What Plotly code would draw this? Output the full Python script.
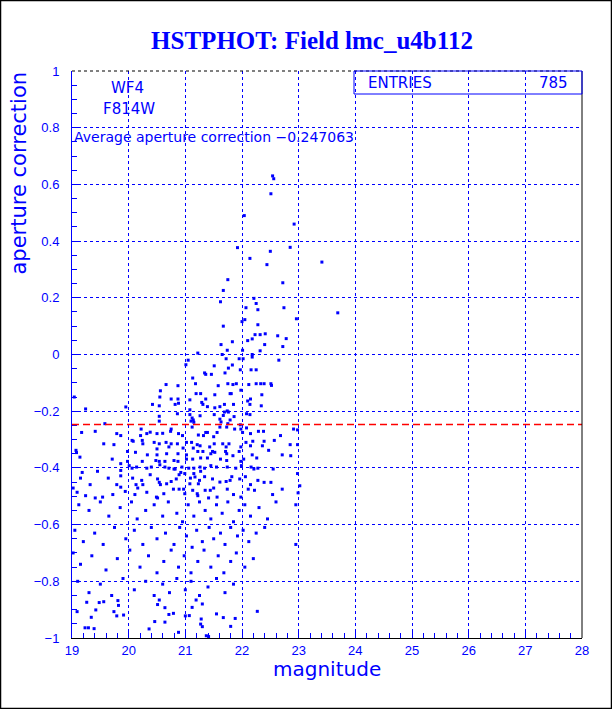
import plotly.graph_objects as go

# ---- data (magnitude, aperture correction) ----
stars_upper = [
    (22.54, 0.63), (22.56, 0.62), (22.51, 0.567), (22.04, 0.49), (22.92, 0.46),
    (21.92, 0.377), (22.50, 0.364), (22.85, 0.378), (22.14, 0.339), (22.44, 0.317),
    (23.41, 0.326), (21.75, 0.264), (21.67, 0.226), (22.72, 0.253), (21.62, 0.186),
    (22.21, 0.198), (22.25, 0.18), (22.07, 0.165), (22.28, 0.158), (22.74, 0.165),
    (23.69, 0.147), (21.67, 0.10), (22.00, 0.116), (22.05, 0.123), (22.28, 0.105),
    (22.96, 0.126), (22.23, 0.07), (22.32, 0.07), (22.41, 0.073), (22.63, 0.066),
    (21.83, 0.045), (22.10, 0.049), (22.18, 0.055), (22.78, 0.056), (21.63, 0.035),
    (22.40, 0.035), (22.72, 0.028), (21.74, 0.015), (22.01, 0.015), (22.32, 0.013),
    (21.22, 0.005), (21.65, 0.0), (22.18, 0.0), (21.05, -0.02), (21.01, -0.036),
    (21.72, -0.015), (21.95, -0.015), (22.02, -0.015), (22.18, -0.009), (22.65, -0.02),
    (21.51, -0.04), (21.83, -0.037), (21.76, -0.048), (21.97, -0.054), (22.16, -0.054),
    (22.25, -0.054), (21.13, -0.083), (21.34, -0.065), (21.36, -0.07), (21.46, -0.07),
    (21.70, -0.065), (19.95, -0.185),
]

stars_middle = [
    (20.66, -0.106), (20.87, -0.11), (21.18, -0.103), (21.58, -0.11), (21.75, -0.103),
    (21.84, -0.106), (21.90, -0.103), (22.12, -0.106), (22.25, -0.103), (22.33, -0.103),
    (22.39, -0.103), (22.51, -0.103), (22.52, -0.109),
    (20.56, -0.128), (19.04, -0.15), (20.55, -0.15), (20.75, -0.157), (20.87, -0.157),
    (21.27, -0.138), (21.19, -0.138), (21.52, -0.142), (21.79, -0.138), (21.81, -0.138),
    (21.98, -0.126), (22.15, -0.157), (22.35, -0.142), (21.36, -0.157),
    (20.42, -0.176), (20.54, -0.181), (20.82, -0.176), (20.88, -0.172), (21.08, -0.16),
    (21.29, -0.169), (21.31, -0.176), (21.52, -0.188), (21.61, -0.184), (21.69, -0.176),
    (21.85, -0.176), (22.10, -0.164), (22.14, -0.176), (22.34, -0.181), (19.24, -0.192),
    (21.08, -0.195), (21.39, -0.184), (21.74, -0.199),
    (20.54, -0.218), (20.86, -0.209), (21.08, -0.212), (21.12, -0.224), (21.14, -0.231),
    (21.15, -0.239), (21.26, -0.216), (21.51, -0.212), (21.61, -0.228), (21.67, -0.215),
    (21.69, -0.203), (21.76, -0.203), (22.08, -0.209), (22.14, -0.212), (20.54, -0.235),
    (21.10, -0.235), (21.79, -0.231), (21.86, -0.219), (19.58, -0.244), (21.63, -0.238),
    (21.75, -0.244), (21.97, -0.248),
    (19.17, -0.275), (19.41, -0.271), (19.79, -0.279), (19.86, -0.286), (20.06, -0.303),
    (20.21, -0.286), (20.22, -0.263), (20.32, -0.279), (20.38, -0.274), (20.50, -0.279),
    (20.60, -0.278), (20.74, -0.271), (20.75, -0.263), (20.88, -0.279), (21.12, -0.256),
    (21.23, -0.284), (21.36, -0.275), (21.39, -0.275), (21.56, -0.275), (21.73, -0.256),
    (21.87, -0.263), (21.98, -0.263), (22.01, -0.275), (22.08, -0.259), (22.15, -0.279),
    (22.29, -0.271), (22.38, -0.271), (22.68, -0.286), (22.91, -0.263), (22.98, -0.266),
    (21.61, -0.256), (20.95, -0.286), (21.32, -0.286), (21.50, -0.29),
    (19.56, -0.315), (19.74, -0.318), (20.08, -0.306), (20.24, -0.303), (20.25, -0.315),
    (20.45, -0.31), (20.54, -0.315), (20.66, -0.31), (20.75, -0.315), (20.86, -0.315),
    (21.02, -0.31), (21.11, -0.31), (21.21, -0.318), (21.51, -0.315), (21.66, -0.315),
    (21.77, -0.315), (22.07, -0.31), (22.19, -0.306), (22.36, -0.322), (22.39, -0.306),
    (22.85, -0.318), (22.98, -0.318), (20.50, -0.333), (20.71, -0.326), (20.96, -0.33),
    (21.14, -0.33), (21.26, -0.322), (21.43, -0.326), (21.72, -0.326), (21.98, -0.326),
    (22.15, -0.322), (22.47, -0.338), (22.57, -0.303),
    (19.07, -0.338), (19.08, -0.346), (19.14, -0.362), (19.71, -0.369), (19.86, -0.385),
    (19.98, -0.342), (20.12, -0.345), (20.33, -0.354), (20.50, -0.354), (20.67, -0.35),
    (20.87, -0.35), (21.02, -0.354), (21.22, -0.342), (21.31, -0.342), (21.45, -0.35),
    (21.48, -0.342), (21.52, -0.345), (21.71, -0.342), (21.73, -0.35), (21.84, -0.357),
    (21.95, -0.342), (22.03, -0.369), (22.18, -0.354), (22.26, -0.365), (22.71, -0.354),
    (22.86, -0.357), (19.98, -0.377), (20.24, -0.377), (20.48, -0.374), (20.54, -0.377),
    (20.64, -0.377), (20.80, -0.374), (20.87, -0.377), (21.02, -0.369), (21.13, -0.369),
    (21.27, -0.365), (21.39, -0.365), (21.62, -0.369), (21.73, -0.374), (21.98, -0.377),
    (19.18, -0.416), (19.45, -0.412), (19.86, -0.409), (20.01, -0.392), (20.06, -0.401),
    (20.14, -0.397), (20.32, -0.401), (20.40, -0.397), (20.55, -0.389), (20.64, -0.397),
    (20.71, -0.401), (20.80, -0.404), (20.82, -0.404), (20.94, -0.397), (21.06, -0.401),
    (21.15, -0.401), (21.26, -0.397), (21.34, -0.401), (21.45, -0.392), (21.55, -0.397),
    (21.74, -0.397), (21.89, -0.401), (21.99, -0.392), (22.16, -0.397), (22.21, -0.404),
    (22.28, -0.401), (22.55, -0.404), (22.98, -0.42), (20.38, -0.424), (20.92, -0.416),
    (20.99, -0.42), (21.15, -0.42), (21.27, -0.412),
    (19.15, -0.436), (19.32, -0.459), (19.64, -0.436), (19.79, -0.459), (19.86, -0.428),
    (20.07, -0.436), (20.23, -0.444), (20.51, -0.439), (20.54, -0.451), (20.75, -0.448),
    (20.84, -0.439), (20.89, -0.424), (21.09, -0.436), (21.17, -0.432), (21.25, -0.444),
    (21.34, -0.431), (21.48, -0.439), (21.61, -0.45), (21.72, -0.448), (21.79, -0.444),
    (21.82, -0.431), (21.96, -0.439), (22.06, -0.431), (22.15, -0.459), (22.28, -0.444),
    (22.39, -0.451), (22.51, -0.451), (23.02, -0.463), (20.13, -0.459), (20.25, -0.459),
    (20.56, -0.459), (20.67, -0.456), (21.08, -0.456), (21.23, -0.456),
    (19.02, -0.471), (19.09, -0.486), (19.24, -0.498), (19.41, -0.506), (19.54, -0.503),
    (19.72, -0.494), (19.94, -0.483), (20.11, -0.494), (20.16, -0.471), (20.32, -0.486),
    (20.49, -0.503), (20.51, -0.506), (20.62, -0.491), (20.79, -0.475), (20.89, -0.475),
    (20.97, -0.475), (20.99, -0.491), (21.13, -0.479), (21.21, -0.491), (21.35, -0.479),
    (21.44, -0.479), (21.50, -0.471), (21.56, -0.503), (21.74, -0.475), (21.85, -0.494),
    (21.98, -0.503), (22.11, -0.475), (22.22, -0.479), (22.54, -0.494), (22.71, -0.475),
    (22.99, -0.488), (19.86, -0.468), (21.22, -0.498), (21.41, -0.506),
]

stars_faint = [
    (19.12, -0.53), (19.30, -0.55), (19.50, -0.52), (19.65, -0.57), (19.85, -0.54),
    (20.05, -0.52), (20.15, -0.58), (20.30, -0.55), (20.45, -0.53), (20.60, -0.57),
    (20.70, -0.52), (20.85, -0.56), (20.95, -0.59), (21.05, -0.53), (21.15, -0.57),
    (21.25, -0.52), (21.35, -0.55), (21.45, -0.58), (21.55, -0.53), (21.65, -0.56),
    (21.75, -0.52), (21.85, -0.59), (21.95, -0.55), (22.05, -0.53), (22.15, -0.57),
    (22.30, -0.54), (22.45, -0.58), (22.60, -0.52), (22.95, -0.53),
    (19.05, -0.62), (19.20, -0.66), (19.40, -0.63), (19.55, -0.67), (19.75, -0.61),
    (19.95, -0.65), (20.10, -0.62), (20.25, -0.67), (20.40, -0.61), (20.50, -0.65),
    (20.65, -0.63), (20.80, -0.67), (20.90, -0.61), (21.02, -0.64), (21.12, -0.68),
    (21.20, -0.62), (21.30, -0.66), (21.42, -0.61), (21.50, -0.65), (21.62, -0.63),
    (21.70, -0.67), (21.80, -0.61), (21.92, -0.64), (22.02, -0.62), (22.12, -0.66),
    (22.25, -0.63), (22.40, -0.61), (22.95, -0.67),
    (19.02, -0.70), (19.15, -0.74), (19.35, -0.71), (19.60, -0.76), (19.80, -0.72),
    (20.02, -0.69), (20.20, -0.75), (20.35, -0.71), (20.50, -0.77), (20.62, -0.73),
    (20.75, -0.69), (20.88, -0.75), (20.98, -0.71), (21.10, -0.77), (21.22, -0.73),
    (21.33, -0.69), (21.45, -0.75), (21.58, -0.71), (21.68, -0.77), (21.80, -0.73),
    (21.90, -0.70), (22.05, -0.75), (22.20, -0.72),
    (19.10, -0.80), (19.30, -0.84), (19.50, -0.81), (19.70, -0.85), (19.90, -0.79),
    (20.10, -0.83), (20.30, -0.80), (20.45, -0.85), (20.60, -0.81), (20.72, -0.84),
    (20.85, -0.79), (21.00, -0.83), (21.10, -0.80), (21.25, -0.85), (21.40, -0.82),
    (21.55, -0.79), (21.70, -0.84), (21.85, -0.81),
]

stars_lower = [
    (19.26, -0.874), (19.48, -0.875), (19.56, -0.872), (19.81, -0.868), (19.82, -0.885),
    (20.51, -0.882), (20.64, -0.893), (20.54, -0.866), (21.19, -0.866), (21.30, -0.88),
    (21.12, -0.892), (19.09, -0.907), (19.42, -0.901), (19.74, -0.907), (19.79, -0.922),
    (19.91, -0.919), (19.34, -0.927), (20.71, -0.917), (20.79, -0.913), (20.46, -0.942),
    (20.64, -0.944), (21.00, -0.922), (21.07, -0.921), (21.55, -0.915), (21.67, -0.928),
    (21.88, -0.931), (21.28, -0.933), (22.27, -0.906), (19.23, -0.964), (19.29, -0.964),
    (19.39, -0.967), (20.36, -0.968), (20.88, -0.98), (21.27, -0.951), (21.30, -0.96),
    (21.80, -0.959), (21.37, -0.992), (21.41, -0.995),
]

average_correction = -0.247063
entries = 785
x_ticks = [19, 20, 21, 22, 23, 24, 25, 26, 27, 28]
y_ticks = [-1, -0.8, -0.6, -0.4, -0.2, 0, 0.2, 0.4, 0.6, 0.8, 1]
y_tick_text = ["\u22121", "\u22120.8", "\u22120.6", "\u22120.4", "\u22120.2", "0",
               "0.2", "0.4", "0.6", "0.8", "1"]

stars = stars_upper + stars_middle + stars_faint + stars_lower
mags = [s[0] for s in stars]
corrs = [s[1] for s in stars]

BLUE = "#0000ff"
W, H = 612, 709
L, R, T, B = 72, 30, 71, 71
PW, PH = W - L - R, H - T - B


def px(x):
    return (x - L) / PW


def py(y):
    return (H - B - y) / PH


fig = go.Figure()
fig.add_trace(go.Scatter(
    x=mags, y=corrs, mode="markers",
    marker=dict(symbol="square", size=3, color=BLUE, line=dict(width=0)),
    hoverinfo="x+y", showlegend=False, cliponaxis=True,
))

axis_font = dict(family="Liberation Sans, Arial, sans-serif", size=13, color=BLUE)

fig.update_layout(
    width=W, height=H,
    margin=dict(l=L, r=R, t=T, b=B),
    paper_bgcolor="white", plot_bgcolor="white",
    showlegend=False,
    title=dict(
        text="<b>HSTPHOT: Field lmc_u4b112</b>",
        font=dict(family="Liberation Serif, Times New Roman, serif", size=25, color=BLUE),
        x=312 / W, xanchor="center", xref="container",
        y=1 - 40 / H, yanchor="middle", yref="container",
    ),
    xaxis=dict(
        range=[19, 28], tickvals=x_ticks, ticktext=[str(v) for v in x_ticks],
        ticks="inside", ticklen=9, tickcolor=BLUE, tickwidth=1,
        showline=True, linecolor="black", linewidth=1,
        showgrid=True, gridcolor=BLUE, griddash="dot", gridwidth=1,
        zeroline=False, tickfont=axis_font,
        minor=dict(ticks="inside", ticklen=5, dtick=0.2, tickcolor=BLUE, showgrid=False),
    ),
    yaxis=dict(
        range=[-1, 1], tickvals=y_ticks, ticktext=y_tick_text,
        ticks="inside", ticklen=9, tickcolor=BLUE, tickwidth=1,
        showline=True, linecolor=BLUE, linewidth=1,
        showgrid=True, gridcolor=BLUE, griddash="dot", gridwidth=1,
        zeroline=False, tickfont=axis_font, ticklabelstandoff=9,
        minor=dict(ticks="inside", ticklen=5, dtick=0.05, tickcolor=BLUE, showgrid=False),
    ),
)

# average line
fig.add_shape(type="line", xref="x", yref="y", x0=19, x1=28,
              y0=average_correction, y1=average_correction,
              line=dict(color="#ff0000", width=1.5, dash="7px,4px"))

# top and right frame of plot
fig.add_shape(type="line", xref="paper", yref="paper", x0=0, x1=1, y0=1, y1=1,
              line=dict(color="black", width=1, dash="dot"))
fig.add_shape(type="line", xref="paper", yref="paper", x0=1, x1=1, y0=0, y1=1,
              line=dict(color="black", width=1))

# ENTRIES box
fig.add_shape(type="rect", xref="paper", yref="paper",
              x0=px(354), x1=1, y0=py(94), y1=1,
              line=dict(color=BLUE, width=1), fillcolor="rgba(0,0,0,0)")

# canvas border
fig.add_shape(type="rect", xref="paper", yref="paper",
              x0=px(0.5), x1=px(W - 0.5), y0=py(H - 0.5), y1=py(0.5),
              line=dict(color="black", width=1.5), fillcolor="rgba(0,0,0,0)")

txt = dict(family="DejaVu Sans, sans-serif", color=BLUE)
ann = [
    dict(text="ENTRIES", x=px(399.5), y=py(83), size=15, xa="center"),
    dict(text=str(entries), x=px(570), y=py(83), size=15, xa="right"),
    dict(text="WF4", x=px(127.5), y=py(88), size=15, xa="center"),
    dict(text="F814W", x=px(128.5), y=py(108.5), size=15, xa="center"),
    dict(text="Average aperture correction \u22120.247063", x=px(72), y=py(137),
         size=14, xa="left"),
    dict(text="magnitude", x=px(326.5), y=py(669), size=20, xa="center"),
]
for a in ann:
    fig.add_annotation(text=a["text"], x=a["x"], y=a["y"], xref="paper", yref="paper",
                       xanchor=a["xa"], yanchor="middle", showarrow=False,
                       font=dict(txt, size=a["size"]))

fig.add_annotation(text="aperture correction", x=px(18), y=py(70), xref="paper",
                   yref="paper", xanchor="center", yanchor="top", textangle=-90,
                   showarrow=False, font=dict(txt, size=21))

fig.write_html("out.html",
               config={"displayModeBar": False},
               post_script="document.body.style.margin='0';"
                           "document.body.style.padding='0';")
